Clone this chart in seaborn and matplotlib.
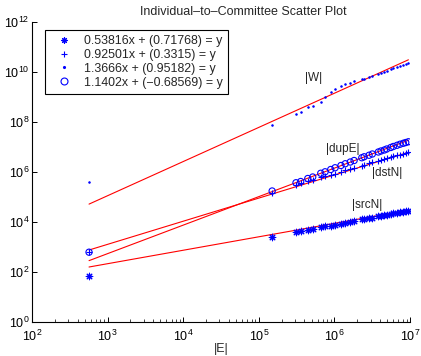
import numpy as np
import pandas as pd
import matplotlib
matplotlib.use("Agg")
import matplotlib.pyplot as plt
import seaborn as sns
from matplotlib.lines import Line2D
from matplotlib.ticker import NullLocator, LogLocator

# |E| values (x)
edges = [568, 1.5e5, 3.10e5, 3.58e5, 4.44e5, 5.16e5, 6.59e5, 7.52e5, 8.93e5,
         1.02e6, 1.22e6, 1.39e6, 1.62e6, 1.82e6, 2.30e6, 2.47e6, 2.87e6,
         3.17e6, 3.81e6, 4.13e6, 4.57e6, 4.92e6, 5.56e6, 6.01e6, 6.73e6,
         7.38e6, 8.15e6, 8.77e6, 9.51e6]

src_n = [71, 2570, 3.98e3, 4.27e3, 4.90e3, 5.25e3, 6.17e3, 6.61e3, 7.24e3,
         7.94e3, 8.71e3, 9.33e3, 1.02e4, 1.10e4, 1.26e4, 1.32e4, 1.45e4,
         1.51e4, 1.70e4, 1.78e4, 1.91e4, 1.95e4, 2.14e4, 2.24e4, 2.34e4,
         2.51e4, 2.63e4, 2.75e4, 2.88e4]

dst_n = [620, 1.41e5, 3.16e5, 3.55e5, 4.27e5, 4.90e5, 6.03e5, 6.76e5, 7.76e5,
         8.71e5, 1.02e6, 1.15e6, 1.32e6, 1.45e6, 1.78e6, 1.91e6, 2.19e6,
         2.40e6, 2.82e6, 3.02e6, 3.31e6, 3.55e6, 3.98e6, 4.27e6, 4.68e6,
         5.01e6, 5.37e6, 5.75e6, 6.03e6]

w_vals = [3.9e5, 7.6e7, 2.03e8, 2.59e8, 3.86e8, 4.50e8, 6.12e8, 9.70e8, 1.58e9,
          2.03e9, 2.84e9, 3.21e9, 3.74e9, 4.24e9, 5.09e9, 5.25e9, 6.12e9,
          6.71e9, 8.32e9, 8.85e9, 1.0e10, 1.13e10, 1.32e10, 1.40e10, 1.54e10,
          1.69e10, 1.91e10, 2.09e10, 2.22e10]

dup_e = [620, 1.74e5, 3.72e5, 4.17e5, 5.50e5, 6.31e5, 8.91e5, 1.02e6, 1.26e6,
         1.48e6, 1.82e6, 2.14e6, 2.51e6, 2.88e6, 3.72e6, 4.07e6, 4.68e6,
         5.25e6, 6.31e6, 6.92e6, 7.59e6, 8.32e6, 9.55e6, 1.05e7, 1.17e7,
         1.29e7, 1.41e7, 1.51e7, 1.62e7]

slopes = [0.53816, 0.92501, 1.3666, 1.1402]
intercepts = [0.71768, 0.3315, 0.95182, -0.68569]
legend_labels = ["0.53816x + (0.71768) = y",
                 "0.92501x + (0.3315) = y",
                 "1.3666x + (0.95182) = y",
                 "1.1402x + (\u22120.68569) = y"]
series_names = ["|srcN|", "|dstN|", "|W|", "|dupE|"]

sns.set_style("ticks")
plt.rcParams["font.family"] = ["Liberation Sans", "DejaVu Sans"]
plt.rcParams["mathtext.fontset"] = "custom"
plt.rcParams["mathtext.rm"] = "Liberation Sans"
plt.rcParams["mathtext.it"] = "Liberation Sans:italic"

fig = plt.figure(figsize=(4.21, 3.56), dpi=100)
ax = fig.add_axes([0.076, 0.0955, 0.898, 0.8427])
ax.set_xscale("log")
ax.set_yscale("log")

series = [src_n, dst_n, w_vals, dup_e]
asterisk = (8, 2, 0)
markers = [asterisk, "+", ".", "o"]
sizes = [22, 24, 4, 20]

# fit lines (red)
x_arr = np.array(edges, dtype=float)
xl = np.array([x_arr.min(), x_arr.max()])
for a, b in zip(slopes, intercepts):
    yl = 10 ** (a * np.log10(xl) + b)
    sns.lineplot(x=xl, y=yl, color="red", linewidth=0.8, ax=ax)

blue = (0, 0, 1)
for ys, m, s in zip(series, markers, sizes):
    df = pd.DataFrame({"E": edges, "v": ys})
    if m == "o":
        sns.scatterplot(data=df, x="E", y="v", marker="o", s=s, color=blue, ax=ax, zorder=3)
        pc = ax.collections[-1]
        pc.set_facecolor("none")
        pc.set_edgecolor(blue)
        pc.set_linewidth(0.8)
    else:
        sns.scatterplot(data=df, x="E", y="v", marker=m, s=s, color=blue,
                        linewidth=0.8, ax=ax, zorder=3)
        pc = ax.collections[-1]
        pc.set_edgecolor(blue)

ax.set_xlim(1e2, 1e7)
ax.set_ylim(1e0, 1e12)
ax.set_yticks([10.0 ** k for k in range(0, 13, 2)])
ax.yaxis.set_minor_locator(NullLocator())
ax.xaxis.set_major_locator(LogLocator(base=10, numticks=10))
ax.xaxis.set_minor_locator(LogLocator(base=10, subs=np.arange(2, 10), numticks=20))

for sp in ["top", "right"]:
    ax.spines[sp].set_visible(False)
for sp in ["left", "bottom"]:
    ax.spines[sp].set_color("black")
    ax.spines[sp].set_linewidth(0.8)

ax.tick_params(which="major", direction="in", length=3.5, width=0.7, labelsize=9, colors="black", pad=2)
ax.tick_params(axis="x", which="major", pad=5)
ax.tick_params(which="minor", direction="in", length=2, width=0.6)

ax.set_xlabel("|E|", fontsize=9, labelpad=-1)
ax.set_ylabel("")
ax.set_title("Individual\u2013to\u2013Committee Scatter Plot", fontsize=9, pad=5, x=0.56)

# labels of series
ax.text(10 ** 5.72, 10 ** 9.76, "|W|", fontsize=8.5, ha="center", va="center")
ax.text(10 ** 6.11, 10 ** 6.92, "|dupE|", fontsize=8.5, ha="center", va="center")
ax.text(10 ** 6.70, 10 ** 5.96, "|dstN|", fontsize=8.5, ha="center", va="center")
ax.text(10 ** 6.43, 10 ** 4.68, "|srcN|", fontsize=8.5, ha="center", va="center")

handles = []
for m, s in zip(markers, sizes):
    if m == "o":
        h = Line2D([], [], linestyle="none", marker="o", markersize=5,
                   markerfacecolor="none", markeredgecolor=blue, markeredgewidth=0.8)
    elif m == ".":
        h = Line2D([], [], linestyle="none", marker=".", markersize=2.5, color=blue)
    else:
        h = Line2D([], [], linestyle="none", marker=m, markersize=4.5, color=blue,
                   markeredgewidth=0.8)
    handles.append(h)

leg = ax.legend(handles, legend_labels, loc="upper left", bbox_to_anchor=(0.034, 0.973),
                borderaxespad=0, fancybox=False, edgecolor="black", framealpha=1,
                fontsize=8.9, labelspacing=0.15, handletextpad=0.45, handlelength=2.3,
                borderpad=0.4)
leg.get_frame().set_linewidth(0.8)

fig.savefig("out.png", dpi=100)
